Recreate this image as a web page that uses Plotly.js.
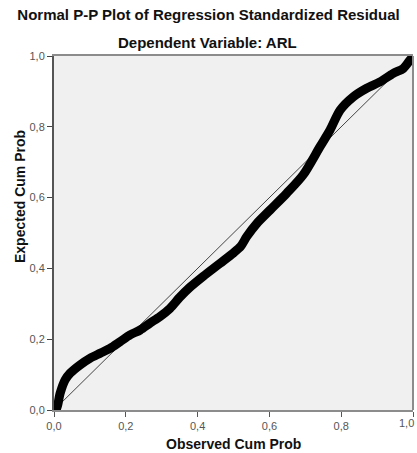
<!DOCTYPE html>
<html>
<head>
<meta charset="utf-8">
<script src="https://cdn.plot.ly/plotly-3.0.1.min.js"></script>
<style>html,body{margin:0;padding:0;background:#fff;overflow:hidden;}#chart{width:417px;height:453px;}</style>
</head>
<body>
<div id="chart"></div>
<script>
// Observed cumulative probability (x) and expected cumulative probability (y)
var observedCumProb = [0.000, 0.0075, 0.017, 0.031, 0.045, 0.072, 0.100, 0.128, 0.156, 0.184, 0.212, 0.240, 0.267, 0.295, 0.323, 0.350, 0.379, 0.416, 0.462, 0.499, 0.520, 0.537, 0.565, 0.602, 0.648, 0.694, 0.741, 0.769, 0.797, 0.834, 0.871, 0.908, 0.945, 0.973, 0.992, 1.000];
var expectedCumProb = [0.000, 0.005, 0.047, 0.085, 0.104, 0.127, 0.146, 0.160, 0.174, 0.193, 0.212, 0.226, 0.245, 0.264, 0.287, 0.318, 0.347, 0.378, 0.414, 0.443, 0.462, 0.490, 0.527, 0.565, 0.612, 0.664, 0.744, 0.791, 0.847, 0.885, 0.909, 0.927, 0.951, 0.965, 0.989, 0.998];
var refLineX = [0, 1];
var refLineY = [0, 1];
var xTickVals = [0, 0.2, 0.4, 0.6, 0.8, 1.0];
var xTickLabels = ["0,0", "0,2", "0,4", "0,6", "0,8", ""];
var yTickVals = [0, 0.2, 0.4, 0.6, 0.8, 1.0];
var yTickLabels = ["0,0", "0,2", "0,4", "0,6", "0,8", "1,0"];
var lastXTickLabel = "1,0";

var titleText = "Normal P-P Plot of Regression Standardized Residual";
var subtitleText = "Dependent Variable: ARL";
var xTitle = "Observed Cum Prob";
var yTitle = "Expected Cum Prob";

var FONT = "Arial, 'Liberation Sans', sans-serif";

var traces = [
  {
    x: refLineX, y: refLineY, type: "scatter", mode: "lines",
    line: {color: "#444", width: 1}, hoverinfo: "skip", showlegend: false
  },
  {
    x: observedCumProb, y: expectedCumProb, type: "scatter", mode: "lines",
    line: {color: "#000", width: 9, shape: "spline", smoothing: 0.8},
    showlegend: false
  }
];

var layout = {
  width: 417, height: 453,
  margin: {l: 54, r: 4, t: 56, b: 43, pad: 0},
  paper_bgcolor: "#ffffff",
  plot_bgcolor: "#f0f0f0",
  showlegend: false,
  title: {
    text: "<b>" + titleText + "</b>",
    font: {family: FONT, size: 15, color: "#111"},
    x: 0.5, xref: "container", xanchor: "center",
    y: 1 - 15 / 453, yref: "container", yanchor: "middle"
  },
  xaxis: {
    range: [0, 1], tickvals: xTickVals, ticktext: xTickLabels,
    showgrid: false, zeroline: false,
    showline: true, linecolor: "#8c8c8c", linewidth: 2, mirror: true,
    ticks: "outside", ticklen: 5, tickwidth: 1, tickcolor: "#555",
    tickfont: {family: FONT, size: 11, color: "#555"}
  },
  yaxis: {
    range: [0, 1], tickvals: yTickVals, ticktext: yTickLabels,
    showgrid: false, zeroline: false,
    showline: true, linecolor: "#555", linewidth: 2, mirror: false,
    ticks: "outside", ticklen: 5, tickwidth: 1, tickcolor: "#444",
    tickfont: {family: FONT, size: 11, color: "#555"}
  },
  shapes: [
    {type: "line", xref: "paper", yref: "paper", x0: 1, x1: 1, y0: 0, y1: 1,
     line: {color: "#8c8c8c", width: 2}}
  ],
  annotations: [
    {text: "<b>" + subtitleText + "</b>", xref: "paper", yref: "paper",
     x: (207 - 54) / 359, y: (410 - 43) / 354, xanchor: "center", yanchor: "middle",
     showarrow: false, font: {family: FONT, size: 15, color: "#111"}},
    {text: "<b>" + xTitle + "</b>", xref: "paper", yref: "paper",
     x: 0.5, y: (410 - 444) / 354, xanchor: "center", yanchor: "middle",
     showarrow: false, font: {family: FONT, size: 14, color: "#111"}},
    {text: "<b>" + yTitle + "</b>", xref: "paper", yref: "paper",
     x: (20 - 54) / 359, y: (410 - 197) / 354, xanchor: "center", yanchor: "middle",
     textangle: -90, showarrow: false, font: {family: FONT, size: 14, color: "#111"}},
    {text: lastXTickLabel, xref: "paper", yref: "paper",
     x: (416 - 54) / 359, y: (410 - 423) / 354, xanchor: "right", yanchor: "middle",
     showarrow: false, font: {family: FONT, size: 11, color: "#555"}}
  ]
};

Plotly.newPlot("chart", traces, layout, {displayModeBar: false, staticPlot: true});
</script>
</body>
</html>
